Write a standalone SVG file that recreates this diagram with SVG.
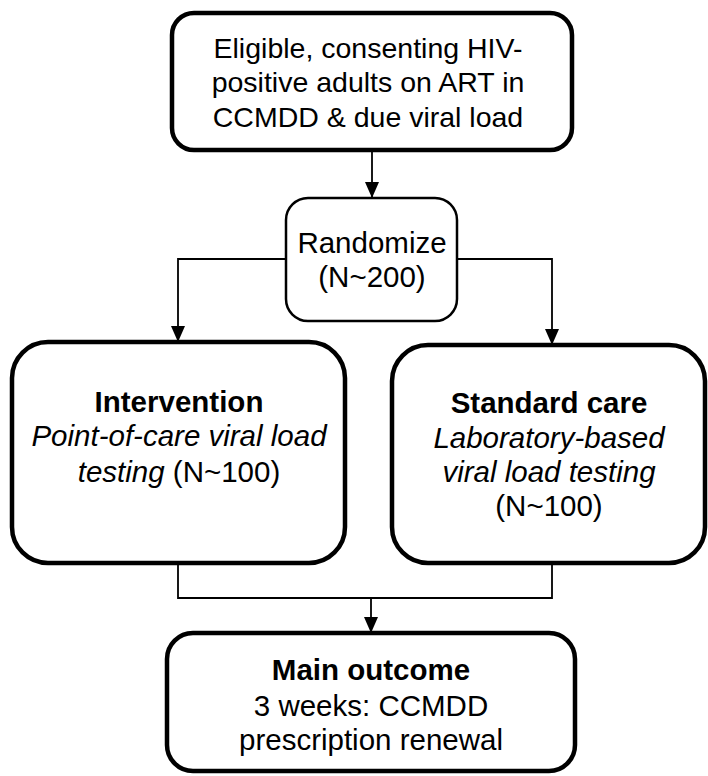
<svg xmlns="http://www.w3.org/2000/svg" width="708" height="776" viewBox="0 0 708 776">
<defs>
<style>
.box{fill:#fff;stroke:#000;stroke-width:4.5}
.thin{fill:#fff;stroke:#000;stroke-width:2.5}
.t{font-family:"Liberation Sans",Arial,sans-serif;font-size:29.5px;fill:#000;text-anchor:middle}
.s{font-size:28.5px}
.b{font-weight:bold}
.i{font-style:italic}
.c{fill:none;stroke:#000;stroke-width:1.8}
</style>
<marker id="ah" markerWidth="16" markerHeight="14" refX="16" refY="7" orient="auto" markerUnits="userSpaceOnUse" viewBox="0 0 16 14">
<path d="M0,0 L16,7 L0,14 Z" fill="#000"/>
</marker>
</defs>
<rect width="708" height="776" fill="#fff"/>
<g id="connectors">
<path class="c" d="M372,150 V198" marker-end="url(#ah)"/>
<path class="c" d="M286,259 H178 V342" marker-end="url(#ah)"/>
<path class="c" d="M457,259 H552 V345" marker-end="url(#ah)"/>
<path class="c" d="M178,563 V598 H552 V563"/>
<path class="c" d="M371,598 V633" marker-end="url(#ah)"/>
</g>
<g id="eligible">
<rect class="box" x="172" y="13" width="400" height="137" rx="22"/>
<text class="t s" x="368" y="58">Eligible, consenting HIV-</text>
<text class="t s" x="368" y="92">positive adults on ART in</text>
<text class="t s" x="368" y="127">CCMDD &amp; due viral load</text>
</g>
<g id="randomize">
<rect class="thin" x="286" y="198" width="171" height="123" rx="22"/>
<text class="t" x="372" y="253">Randomize</text>
<text class="t" x="372" y="287">(N~200)</text>
</g>
<g id="intervention">
<rect class="box" x="12" y="342" width="333" height="221" rx="36"/>
<text class="t b" x="179" y="412">Intervention</text>
<text class="t i" x="179" y="446">Point-of-care viral load</text>
<text class="t" x="179" y="482"><tspan class="i">testing</tspan> (N~100)</text>
</g>
<g id="standard">
<rect class="box" x="392" y="345" width="313" height="218" rx="36"/>
<text class="t b" x="549" y="413">Standard care</text>
<text class="t i" x="549" y="448">Laboratory-based</text>
<text class="t i" x="549" y="482">viral load testing</text>
<text class="t" x="549" y="516">(N~100)</text>
</g>
<g id="outcome">
<rect class="box" x="167" y="633" width="408" height="138" rx="26"/>
<text class="t b" x="371" y="680">Main outcome</text>
<text class="t" x="371" y="716">3 weeks: CCMDD</text>
<text class="t" x="371" y="750">prescription renewal</text>
</g>
</svg>
